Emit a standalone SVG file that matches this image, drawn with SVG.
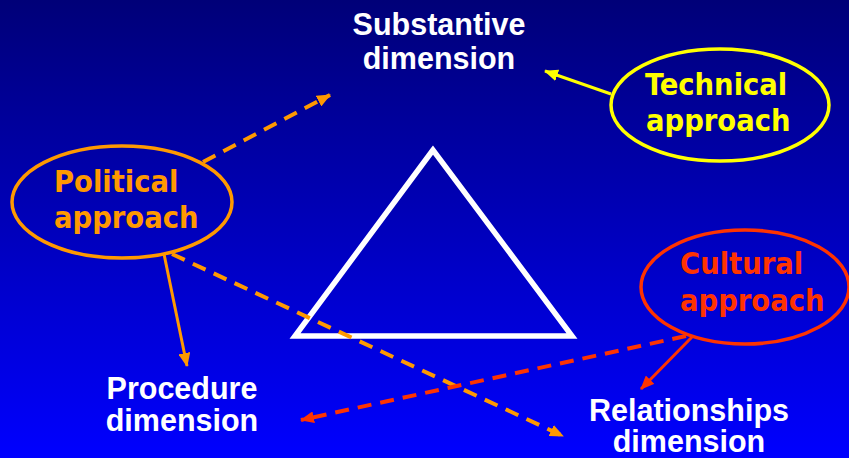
<svg xmlns="http://www.w3.org/2000/svg" width="849" height="458" viewBox="0 0 849 458">
<defs>
<linearGradient id="bg" x1="0" y1="0" x2="0" y2="1">
<stop offset="0" stop-color="#000078"/>
<stop offset="1" stop-color="#0000FF"/>
</linearGradient>
<marker id="aOr" viewBox="0 0 14 12" refX="13" refY="6" markerWidth="14" markerHeight="12" markerUnits="userSpaceOnUse" orient="auto"><path d="M0,0 L14,6 L0,12 Z" fill="#FF9900"/></marker>
<marker id="aYe" viewBox="0 0 14 12" refX="13" refY="6" markerWidth="14" markerHeight="12" markerUnits="userSpaceOnUse" orient="auto"><path d="M0,0 L14,6 L0,12 Z" fill="#FFFF00"/></marker>
<marker id="aRe" viewBox="0 0 14 12" refX="13" refY="6" markerWidth="14" markerHeight="12" markerUnits="userSpaceOnUse" orient="auto"><path d="M0,0 L14,6 L0,12 Z" fill="#FF3300"/></marker>
</defs>
<style>
.dim{font-family:"Liberation Sans",Arial,sans-serif;font-weight:bold;font-size:30.5px;fill:#FFFFFF;text-anchor:middle}
.app{font-family:"DejaVu Sans Condensed","DejaVu Sans",sans-serif;font-stretch:condensed;font-weight:bold;font-size:30.5px}
.ell{fill:none;stroke-width:3.5}
.con{fill:none;stroke-width:3}
.dash{stroke-width:4;stroke-dasharray:14,9}
</style>
<rect x="0" y="0" width="849" height="458" fill="url(#bg)"/>
<g id="triangle"><path d="M433,150 L295,336 L572,336 Z" fill="none" stroke="#FFFFFF" stroke-width="5.5" stroke-linejoin="miter"/></g>
<g id="connectors">
<line class="con" x1="611" y1="94" x2="545" y2="71" stroke="#FFFF00" marker-end="url(#aYe)"/>
<line class="con dash" x1="203" y1="162" x2="330" y2="95" stroke="#FF9900" marker-end="url(#aOr)"/>
<line class="con" x1="164" y1="254" x2="187" y2="366" stroke="#FF9900" marker-end="url(#aOr)"/>
<line class="con dash" x1="172" y1="254" x2="563" y2="436" stroke="#FF9900" marker-end="url(#aOr)"/>
<line class="con dash" x1="686" y1="336" x2="301" y2="420" stroke="#FF3300" marker-end="url(#aRe)"/>
<line class="con" x1="692" y1="337" x2="641" y2="389" stroke="#FF3300" marker-end="url(#aRe)"/>
</g>
<g id="substantive"><text class="dim" x="439" y="35">Substantive</text><text class="dim" x="439" y="69">dimension</text></g>
<g id="procedure"><text class="dim" x="182" y="399">Procedure</text><text class="dim" x="182" y="431">dimension</text></g>
<g id="relationships"><text class="dim" x="689" y="421">Relationships</text><text class="dim" x="689" y="452">dimension</text></g>
<g id="technical"><ellipse class="ell" cx="720" cy="105" rx="109" ry="56" stroke="#FFFF00"/><text class="app" x="645" y="95" fill="#FFFF00">Technical</text><text class="app" x="646" y="131" fill="#FFFF00">approach</text></g>
<g id="political"><ellipse class="ell" cx="122" cy="202" rx="110" ry="56" stroke="#FF9900"/><text class="app" x="54" y="192" fill="#FF9900">Political</text><text class="app" x="54" y="228" fill="#FF9900">approach</text></g>
<g id="cultural"><ellipse class="ell" cx="745" cy="287" rx="104" ry="57" stroke="#FF3300"/><text class="app" x="680" y="274" fill="#FF3300">Cultural</text><text class="app" x="680" y="311" fill="#FF3300">approach</text></g>
</svg>
